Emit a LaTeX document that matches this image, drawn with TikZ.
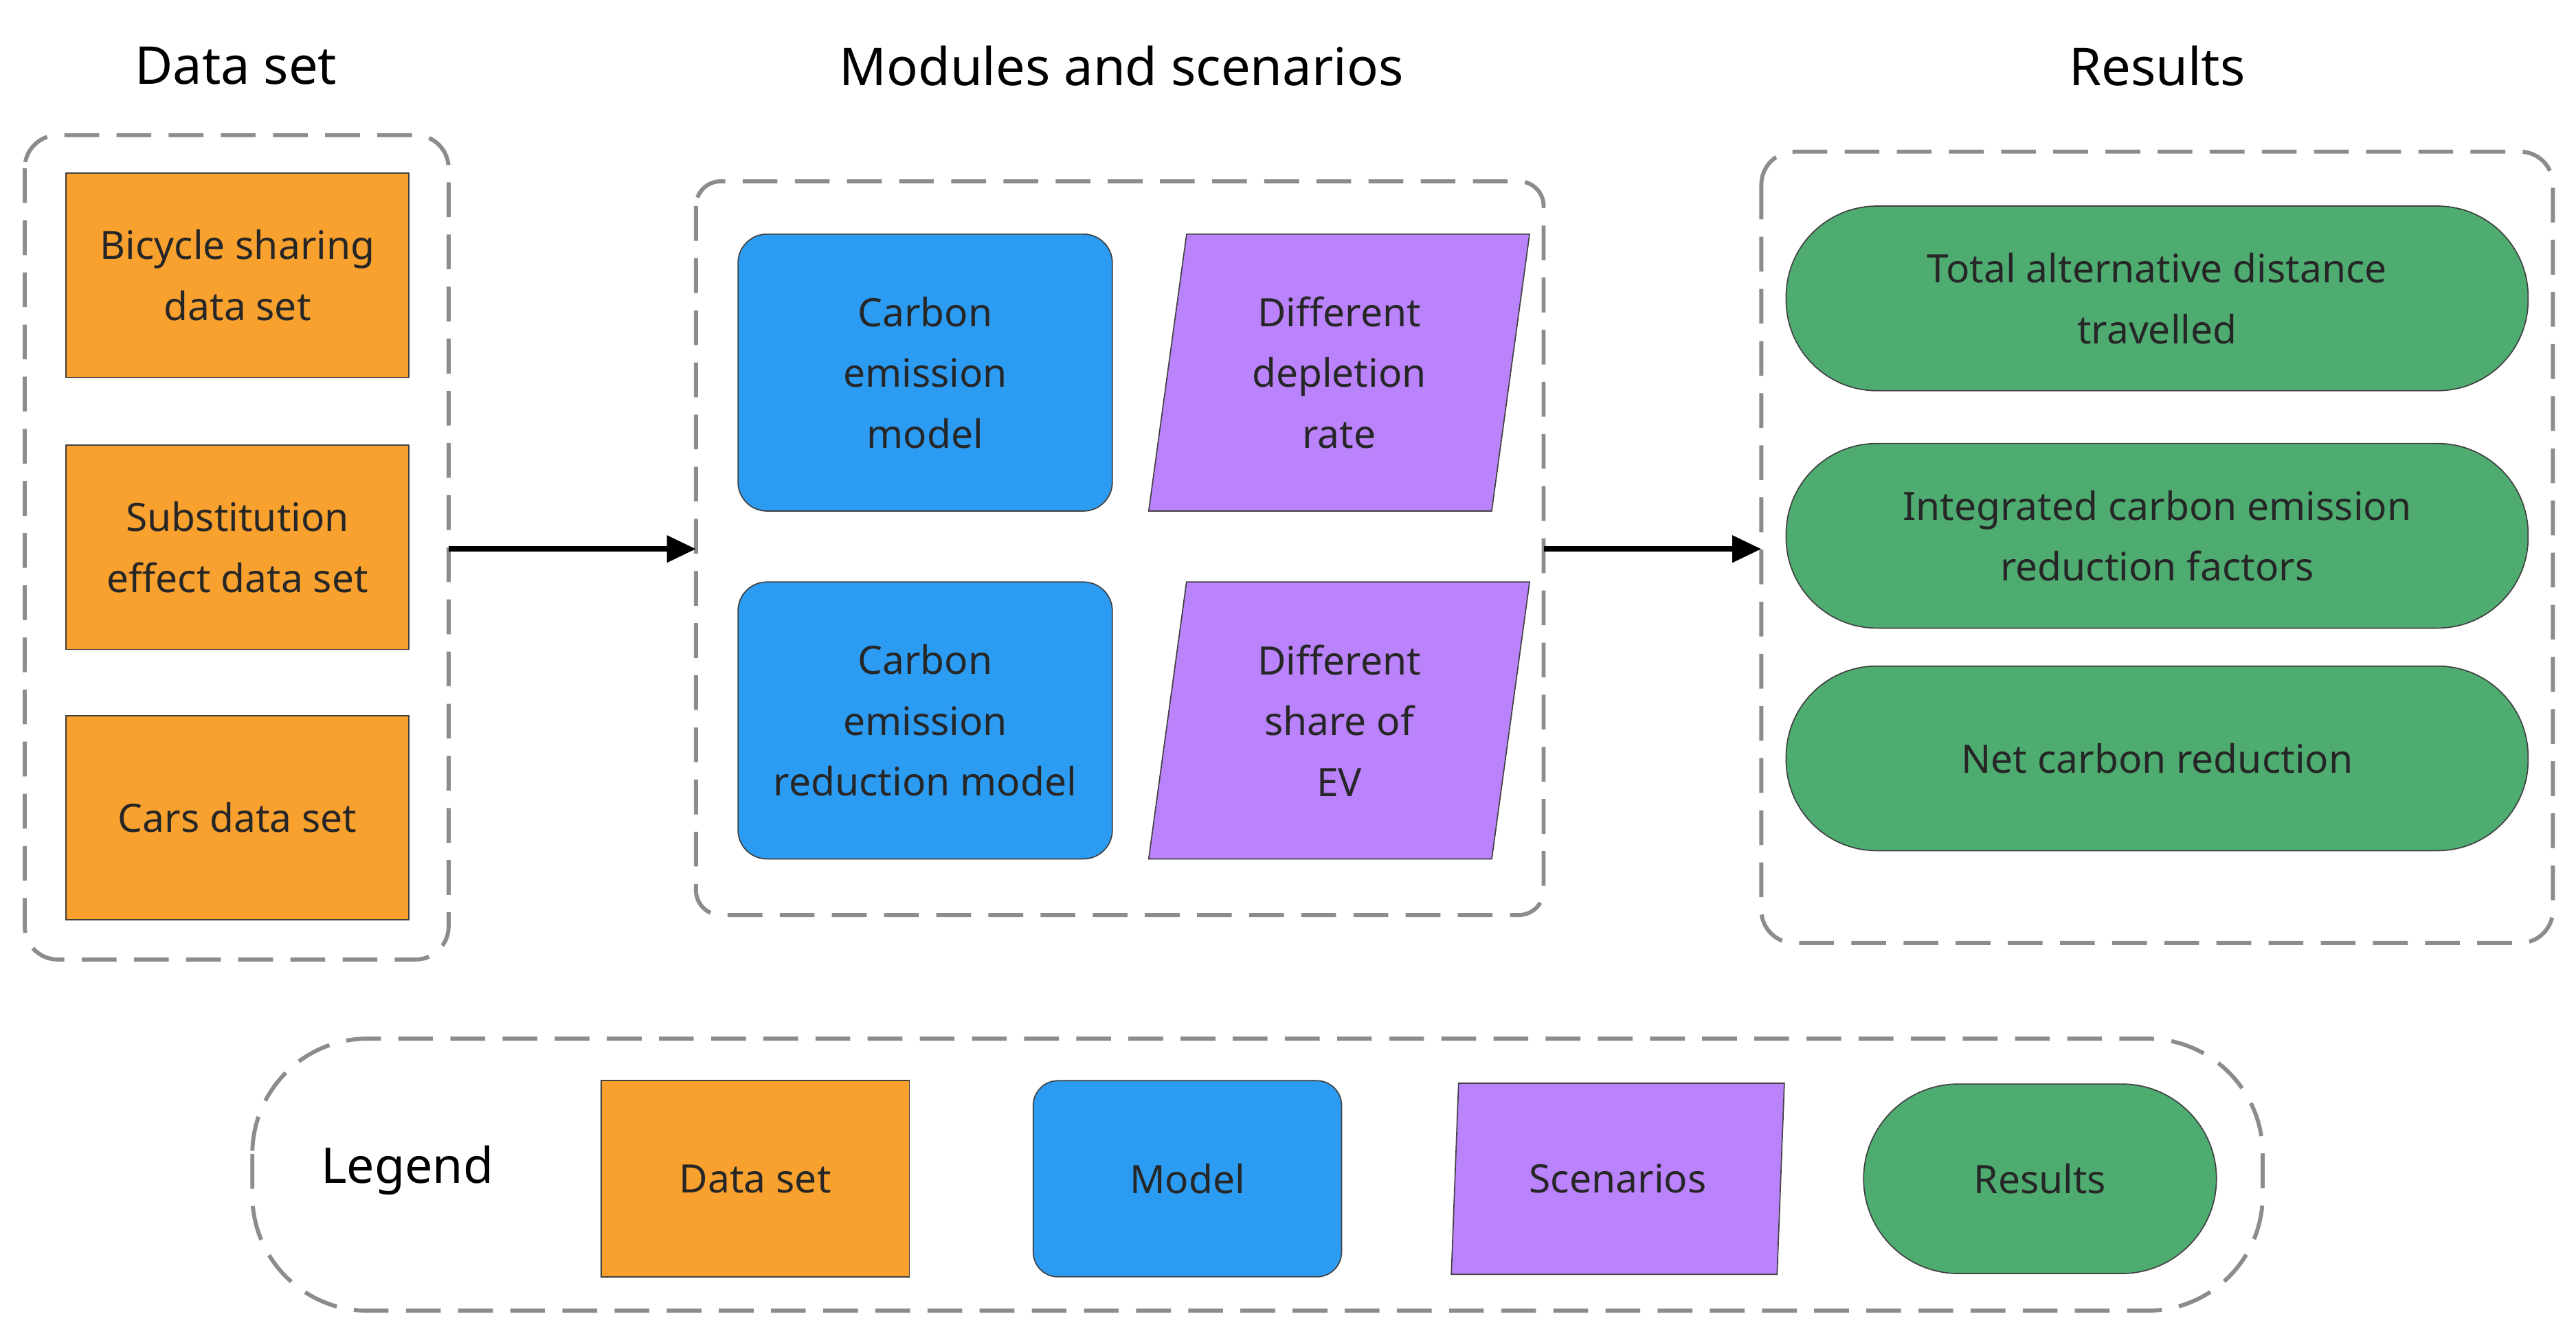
\documentclass[tikz,border=0pt]{standalone}
\usepackage{fontspec}
\setmainfont{Noto Sans}
\usetikzlibrary{shapes.geometric,arrows.meta}
\definecolor{dsorange}{HTML}{F9A12E}
\definecolor{mdblue}{HTML}{2C9CF2}
\definecolor{scpurple}{HTML}{BA83FB}
\definecolor{rsgreen}{HTML}{4EAC71}
\definecolor{dashgray}{HTML}{8C8C8C}
\tikzset{
  txt/.style={font=\fontsize{13.5}{21}\selectfont, align=center, text=black!85},
  head/.style={font=\fontsize{18}{22}\selectfont\bfseries},
  dataset/.style={txt, draw=black!75, fill=dsorange, minimum width=4.16cm, minimum height=2.48cm, inner sep=0pt},
  model/.style={txt, draw=black!75, fill=mdblue, rounded corners=0.35cm, minimum width=4.54cm, minimum height=3.36cm, inner sep=0pt},
  scen/.style={txt, draw=black!75, fill=scpurple, trapezium, trapezium left angle=76, trapezium right angle=104, trapezium stretches body, minimum width=4.62cm, minimum height=3.36cm, inner sep=0pt},
  result/.style={txt, draw=black!75, fill=rsgreen, rounded corners=1.1cm, minimum width=9cm, minimum height=2.24cm, inner sep=0pt},
  group/.style={draw=dashgray, line width=1.4pt, dash pattern=on 12pt off 6pt},
  flow/.style={-{Triangle[length=10pt,width=9pt]}, line width=1.8pt}
}
\begin{document}
\begin{tikzpicture}[x=0.02cm,y=-0.02cm]
\useasboundingbox (0,0) rectangle (1562,810);
% headings
\node[head] (hdata) at (143,40) {Data set};
\node[head] (hmod) at (680,40) {Modules and scenarios};
\node[head] (hres) at (1308,40) {Results};
% groups
\draw[group, rounded corners=0.4cm] (15,82) rectangle (272,582);
\draw[group, rounded corners=0.3cm] (422,110) rectangle (936,555);
\draw[group, rounded corners=0.4cm] (1068,92) rectangle (1548,572);
\coordinate (g1) at (272,333);
\coordinate (g2) at (422,333);
\coordinate (g3) at (936,333);
\coordinate (g4) at (1068,333);
% data sets
\node[dataset] (bike) at (144,167) {Bicycle sharing\\data set};
\node[dataset] (subst) at (144,332) {Substitution\\effect data set};
\node[dataset] (cars) at (144,496) {Cars data set};
% models and scenarios
\node[model] (cem) at (561,226) {Carbon\\emission\\model};
\node[model] (cerm) at (561,437) {Carbon\\emission\\reduction model};
\node[scen] (depl) at (812,226) {Different\\depletion\\rate};
\node[scen] (share) at (812,437) {Different\\share of\\EV};
% results
\node[result] (dist) at (1308,181) {Total alternative distance\\travelled};
\node[result] (fact) at (1308,325) {Integrated carbon emission\\reduction factors};
\node[result] (net) at (1308,460) {Net carbon reduction};
% flow
\draw[flow] (g1) -- (g2);
\draw[flow] (g3) -- (g4);
% legend
\draw[group, rounded corners=1.4cm] (153,630) rectangle (1372,795);
\node[head, font=\fontsize{17}{20}\selectfont\bfseries] (leg) at (247,710) {Legend};
\node[dataset, minimum width=3.74cm, minimum height=2.38cm] (ldata) at (458,715) {Data set};
\node[model, minimum width=3.74cm, minimum height=2.38cm, rounded corners=0.3cm] (lmodel) at (720,715) {Model};
\node[scen, minimum width=4.04cm, minimum height=2.32cm] (lscen) at (981,715) {Scenarios};
\node[result, minimum width=4.28cm, minimum height=2.3cm, rounded corners=1.15cm] (lres) at (1237,715) {Results};
\end{tikzpicture}
\end{document}
